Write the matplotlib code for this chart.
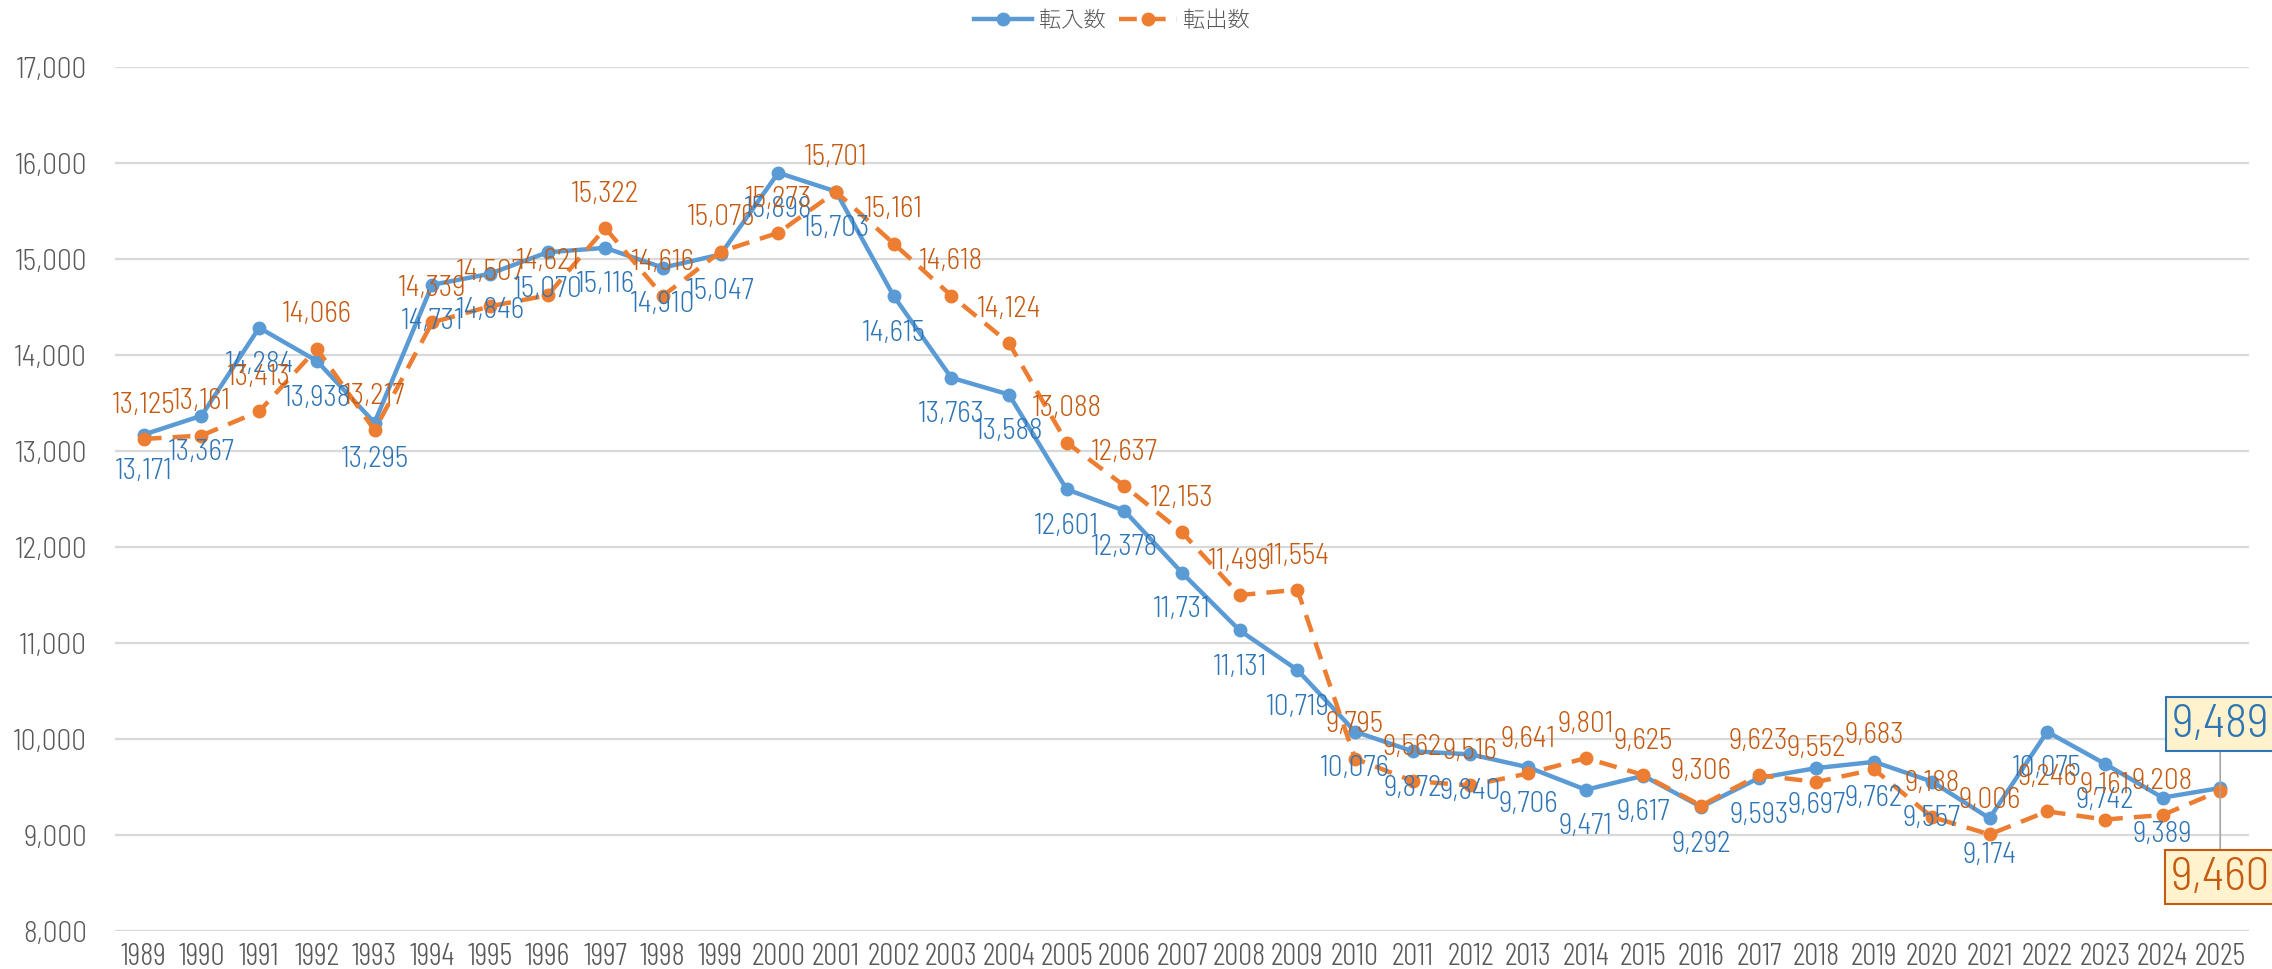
import matplotlib
matplotlib.use("Agg")
import matplotlib.pyplot as plt
from matplotlib.ticker import FuncFormatter, MultipleLocator

FONT = ['Barlow Semi Condensed', 'Barlow Condensed', 'Archivo Narrow', 'Noto Sans CJK JP', 'DejaVu Sans']
FONT_X = ['Barlow Condensed', 'Archivo Narrow', 'Noto Sans CJK JP', 'DejaVu Sans']
plt.rcParams['font.family'] = FONT
plt.rcParams['font.weight'] = 300

years = [str(y) for y in range(1989, 2026)]
tennyu = [13171, 13367, 14284, 13938, 13295, 14731, 14846, 15070, 15116, 14910,
          15047, 15898, 15703, 14615, 13763, 13588, 12601, 12378, 11731, 11131,
          10719, 10076, 9872, 9840, 9706, 9471, 9617, 9292, 9593, 9697,
          9762, 9557, 9174, 10075, 9742, 9389, 9489]
tenshutsu = [13125, 13161, 13413, 14066, 13217, 14339, 14507, 14621, 15322, 14616,
             15076, 15273, 15701, 15161, 14618, 14124, 13088, 12637, 12153, 11499,
             11554, 9795, 9562, 9516, 9641, 9801, 9625, 9306, 9623, 9552,
             9683, 9188, 9006, 9246, 9161, 9208, 9460]
series_names = ['転入数', '転出数']

BLUE = '#5B9BD5'
ORANGE = '#ED7D31'
BLUE_TXT = '#2E75B6'
ORANGE_TXT = '#C55A11'
GRAY_TXT = '#595959'

fig = plt.figure(figsize=(22.72, 9.70), dpi=100)
ax = fig.add_axes([0.0506, 0.0392, 0.9393, 0.8907])

x = list(range(len(years)))
ax.plot(x, tennyu, color=BLUE, lw=3.2, marker='o', ms=9, label=series_names[0], zorder=3)
ax.plot(x, tenshutsu, color=ORANGE, lw=3.2, ls=(0, (4, 2.5)), marker='o', ms=9,
        label=series_names[1], zorder=4)

ax.set_xlim(-0.5, len(years) - 0.5)
ax.set_ylim(8000, 17000)
ax.yaxis.set_major_locator(MultipleLocator(1000))
ax.yaxis.set_major_formatter(FuncFormatter(lambda v, p: f"{int(v):,}"))
ax.set_xticks(x)
ax.set_xticklabels(years, family=FONT_X, fontsize=22.5, weight=300)
ax.tick_params(axis='both', length=0, labelsize=21, labelcolor=GRAY_TXT)
ax.tick_params(axis='x', pad=8, labelsize=22.5)
ax.tick_params(axis='y', pad=20)
ax.grid(axis='y', color='#D9D9D9', lw=1.6)
ax.set_axisbelow(True)
for s in ax.spines.values():
    s.set_visible(False)

last = len(years) - 1
for i in range(last):
    ax.annotate(f"{tennyu[i]:,}", (x[i], tennyu[i]), xytext=(0, -26), textcoords='offset points',
                ha='center', va='center', fontsize=21, color=BLUE_TXT, zorder=6)
    ax.annotate(f"{tenshutsu[i]:,}", (x[i], tenshutsu[i]), xytext=(0, 25), textcoords='offset points',
                ha='center', va='center', fontsize=21, color=ORANGE_TXT, zorder=6)

ax.annotate(f"{tennyu[last]:,}", (x[last], tennyu[last]), xytext=(0, 46), textcoords='offset points',
            ha='center', va='center', fontsize=34, color=BLUE_TXT, zorder=7,
            bbox=dict(boxstyle='square,pad=0.12', fc='#FFF2CC', ec=BLUE_TXT, lw=1.5),
            arrowprops=dict(arrowstyle='-', color='#A6A6A6', lw=1.2, shrinkA=0, shrinkB=0))
ax.annotate(f"{tenshutsu[last]:,}", (x[last], tenshutsu[last]), xytext=(0, -62), textcoords='offset points',
            ha='center', va='center', fontsize=34, color=ORANGE_TXT, zorder=7,
            bbox=dict(boxstyle='square,pad=0.12', fc='#FFF2CC', ec=ORANGE_TXT, lw=1.5),
            arrowprops=dict(arrowstyle='-', color='#A6A6A6', lw=1.2, shrinkA=0, shrinkB=0))

leg = fig.legend(loc='center', bbox_to_anchor=(0.4895, 0.978), ncol=2, frameon=False,
                 prop={'family': ['Noto Sans CJK JP', 'DejaVu Sans'], 'size': 16},
                 labelcolor=GRAY_TXT, handlelength=2.6, columnspacing=0.6, handletextpad=0.3)

fig.savefig('out.png', dpi=100)
